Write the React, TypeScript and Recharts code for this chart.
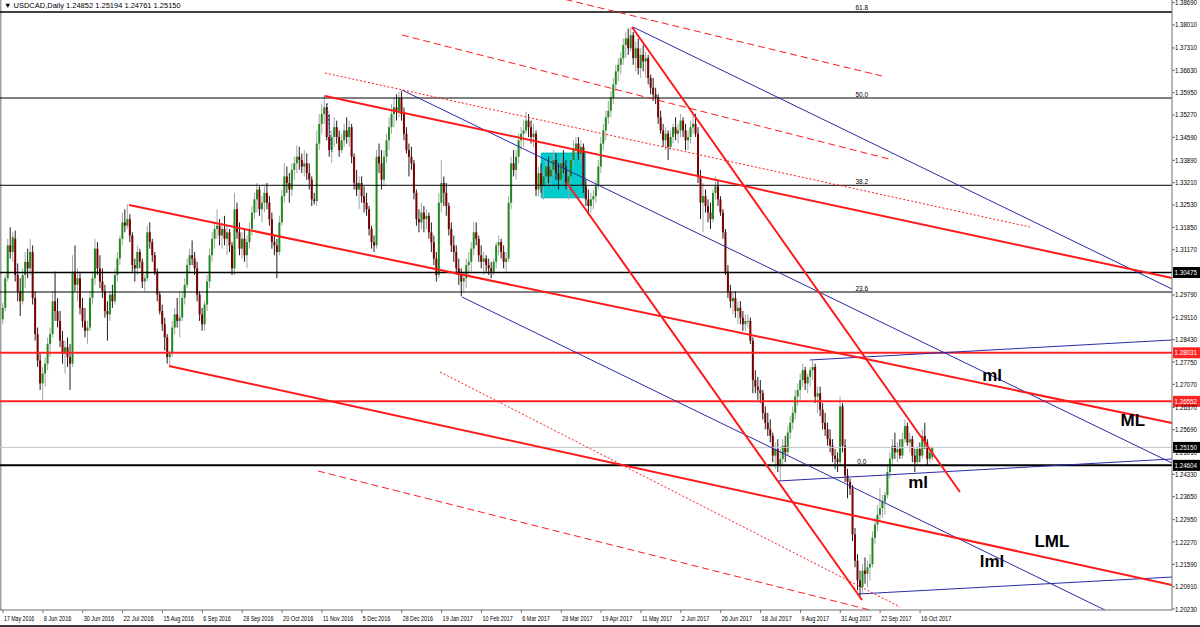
import React from "react";
import {
  ComposedChart,
  Bar,
  XAxis,
  YAxis,
  ReferenceLine,
  ReferenceArea,
  ReferenceDot,
} from "recharts";

// USDCAD daily, 17 May 2016 .. 20 Oct 2017, prices in pips (O, H, L, C)
const CANDLES: [number, number, number, number][] = [
  [12905,12955,12890,12940],[12940,13040,12930,13030],[13030,13150,13020,13130],[13130,13185,13090,13110],[13110,13170,13080,13155],
  [13150,13175,13020,13040],[13040,13075,12960,12990],[12990,13030,12915,12960],[12960,13060,12950,13040],[13040,13110,13000,13080],
  [13080,13120,13030,13060],[13060,13150,13040,13110],[13110,13130,12950,12970],[12970,12990,12840,12860],[12860,12880,12760,12780],
  [12780,12800,12690,12710],[12710,12760,12655,12740],[12740,12790,12700,12770],[12770,12850,12750,12830],[12830,12880,12790,12860],
  [12860,12990,12850,12960],[12960,13050,12900,12930],[12930,12970,12880,12900],[12900,12930,12820,12840],[12840,12870,12770,12800],
  [12800,12840,12740,12820],[12820,12850,12760,12790],[12790,12830,12690,12770],[12770,13100,12760,13050],[13050,13130,12990,13010],
  [13010,13060,12960,13030],[13030,13050,12920,12940],[12940,12970,12880,12900],[12900,12940,12850,12870],[12870,12900,12830,12880],
  [12880,12990,12870,12970],[12970,13050,12950,13030],[13030,13150,13010,13120],[13120,13140,13040,13060],[13060,13100,13000,13020],
  [13020,13060,12970,12990],[12990,13010,12910,12930],[12930,12960,12840,12920],[12920,12990,12900,12980],[12980,13010,12940,12960],
  [12960,13060,12950,13040],[13040,13110,13020,13090],[13090,13160,13070,13150],[13150,13230,13130,13200],[13200,13240,13170,13190],
  [13190,13255,13180,13210],[13210,13225,13140,13160],[13160,13170,13050,13070],[13070,13090,13020,13060],[13060,13130,13040,13110],
  [13110,13120,13060,13080],[13080,13090,13000,13020],[13020,13040,12990,13030],[13030,13190,13020,13170],[13170,13200,13120,13140],
  [13140,13150,13080,13100],[13100,13110,13040,13050],[13050,13060,12960,12980],[12980,12990,12920,12930],[12930,12950,12870,12890],
  [12890,12910,12810,12850],[12850,12860,12770,12790],[12790,12810,12762,12800],[12800,12900,12790,12880],[12880,12940,12860,12920],
  [12920,12970,12880,12900],[12900,12990,12850,12910],[12910,12990,12900,12970],[12970,13030,12950,13010],[13010,13090,13000,13070],
  [13070,13120,13050,13100],[13100,13145,13070,13090],[13090,13110,13040,13060],[13060,13080,12960,12980],[12980,12990,12900,12920],
  [12920,12940,12870,12890],[12890,12960,12870,12950],[12950,13040,12930,13020],[13020,13120,13000,13100],[13100,13170,13080,13150],
  [13150,13200,13120,13180],[13180,13240,13150,13190],[13190,13210,13130,13160],[13160,13200,13120,13180],[13180,13220,13130,13150],
  [13150,13190,13100,13170],[13170,13180,13110,13130],[13130,13140,13040,13060],[13060,13290,13040,13240],[13240,13260,13150,13170],
  [13170,13200,13100,13120],[13120,13170,13090,13150],[13150,13180,13080,13100],[13100,13160,13060,13140],[13140,13200,13120,13180],
  [13180,13250,13160,13230],[13230,13290,13210,13270],[13270,13320,13230,13300],[13300,13310,13220,13240],[13240,13280,13200,13260],
  [13260,13310,13230,13290],[13290,13320,13240,13260],[13260,13280,13190,13210],[13210,13230,13120,13140],[13140,13160,13100,13130],
  [13130,13150,13030,13110],[13110,13220,13100,13200],[13200,13300,13190,13280],[13280,13380,13260,13340],[13340,13370,13290,13320],
  [13320,13350,13260,13300],[13300,13380,13280,13360],[13360,13400,13330,13380],[13380,13435,13350,13400],[13400,13430,13360,13390],
  [13390,13410,13350,13370],[13370,13420,13340,13380],[13380,13410,13330,13350],[13350,13380,13300,13330],[13330,13340,13250,13270],
  [13270,13290,13255,13265],[13265,13480,13250,13440],[13440,13530,13420,13500],[13500,13560,13470,13530],[13530,13588,13500,13550],
  [13550,13560,13450,13460],[13460,13530,13400,13420],[13420,13480,13380,13460],[13460,13520,13430,13490],[13490,13510,13440,13460],
  [13460,13480,13400,13420],[13420,13470,13410,13450],[13450,13500,13430,13480],[13480,13520,13440,13460],[13460,13510,13430,13490],
  [13490,13500,13380,13400],[13400,13410,13300,13320],[13320,13360,13280,13300],[13300,13340,13240,13320],[13320,13340,13260,13280],
  [13280,13310,13230,13260],[13260,13290,13220,13240],[13240,13250,13160,13180],[13180,13190,13120,13140],[13140,13160,13110,13130],
  [13130,13420,13120,13400],[13400,13440,13350,13380],[13380,13420,13300,13330],[13330,13420,13310,13400],[13400,13470,13380,13450],
  [13450,13520,13420,13490],[13490,13560,13470,13530],[13530,13580,13490,13550],[13550,13590,13510,13540],[13540,13598,13520,13580],
  [13580,13600,13510,13530],[13530,13550,13450,13470],[13470,13490,13410,13420],[13420,13440,13340,13400],[13400,13430,13360,13380],
  [13380,13390,13270,13290],[13290,13300,13190,13210],[13210,13240,13170,13200],[13200,13260,13180,13230],[13230,13250,13170,13210],
  [13210,13240,13180,13220],[13220,13230,13150,13170],[13170,13200,13110,13140],[13140,13160,13070,13090],[13090,13110,13020,13040],
  [13040,13290,13030,13260],[13260,13390,13230,13320],[13320,13340,13250,13290],[13290,13320,13220,13250],[13250,13260,13160,13180],
  [13180,13200,13110,13130],[13130,13160,13080,13110],[13110,13130,13040,13060],[13060,13090,13010,13040],[13040,13060,12975,13020],
  [13020,13050,12990,13030],[13030,13090,13000,13070],[13070,13110,13040,13080],[13080,13140,13050,13120],[13120,13200,13100,13170],
  [13170,13200,13130,13150],[13150,13160,13080,13100],[13100,13130,13060,13080],[13080,13110,13040,13090],[13090,13100,13050,13070],
  [13070,13090,13040,13060],[13060,13080,13030,13050],[13050,13090,13040,13080],[13080,13140,13060,13130],[13130,13160,13100,13140],
  [13140,13150,13090,13110],[13110,13130,13060,13080],[13080,13110,13050,13090],[13090,13280,13080,13260],[13260,13400,13240,13380],
  [13380,13420,13340,13360],[13360,13420,13330,13400],[13400,13470,13380,13450],[13450,13490,13420,13470],[13470,13510,13430,13480],
  [13480,13537,13470,13510],[13510,13530,13460,13490],[13490,13510,13440,13460],[13460,13500,13430,13470],[13470,13480,13280,13300],
  [13300,13370,13280,13350],[13350,13380,13290,13310],[13310,13360,13270,13340],[13340,13390,13310,13370],[13370,13400,13320,13340],
  [13340,13380,13300,13360],[13360,13420,13340,13390],[13390,13410,13330,13350],[13350,13380,13300,13330],[13330,13400,13310,13380],
  [13380,13420,13350,13370],[13370,13390,13300,13320],[13320,13360,13270,13340],[13340,13400,13320,13390],[13390,13450,13370,13420],
  [13420,13460,13400,13440],[13440,13460,13390,13410],[13410,13450,13380,13430],[13430,13440,13290,13310],[13310,13330,13250,13270],
  [13270,13300,13222,13250],[13250,13290,13230,13270],[13270,13300,13240,13280],[13280,13330,13260,13310],[13310,13390,13300,13370],
  [13370,13460,13350,13440],[13440,13500,13420,13480],[13480,13540,13450,13520],[13520,13570,13500,13540],[13540,13600,13520,13580],
  [13580,13640,13560,13620],[13620,13680,13600,13660],[13660,13700,13630,13680],[13680,13720,13650,13700],[13700,13760,13680,13740],
  [13740,13780,13700,13760],[13760,13790,13710,13730],[13730,13793,13720,13770],[13770,13780,13680,13700],[13700,13750,13660,13730],
  [13730,13760,13650,13670],[13670,13730,13640,13710],[13710,13740,13660,13690],[13690,13720,13640,13700],[13700,13710,13620,13640],
  [13640,13650,13590,13610],[13610,13640,13570,13590],[13590,13610,13560,13580],[13580,13590,13500,13520],[13520,13540,13470,13480],
  [13480,13500,13430,13450],[13450,13490,13420,13470],[13470,13480,13390,13430],[13430,13480,13420,13460],[13460,13500,13440,13490],
  [13490,13520,13450,13470],[13470,13500,13440,13480],[13480,13530,13460,13510],[13510,13520,13460,13480],[13480,13500,13420,13450],
  [13450,13480,13420,13460],[13460,13510,13440,13490],[13490,13530,13470,13500],[13500,13530,13460,13470],[13470,13490,13320,13340],
  [13340,13360,13210,13260],[13260,13320,13170,13280],[13280,13300,13230,13250],[13250,13270,13200,13230],[13230,13260,13180,13210],
  [13210,13300,13200,13290],[13290,13340,13270,13310],[13310,13330,13250,13270],[13270,13280,13220,13230],[13230,13240,13150,13170],
  [13170,13180,13040,13050],[13050,13070,12970,12990],[12990,13010,12940,12960],[12960,12990,12920,12970],[12970,12990,12910,12930],
  [12930,12960,12890,12940],[12940,12960,12890,12910],[12910,12930,12870,12890],[12890,12920,12870,12900],[12900,12920,12880,12900],
  [12900,12910,12830,12840],[12840,12850,12680,12720],[12720,12750,12680,12700],[12700,12730,12660,12690],[12690,12720,12650,12680],
  [12680,12690,12600,12620],[12620,12640,12570,12590],[12590,12620,12550,12570],[12570,12600,12530,12550],[12550,12560,12470,12490],
  [12490,12530,12450,12510],[12510,12540,12440,12460],[12460,12510,12414,12480],[12480,12540,12460,12520],[12520,12550,12470,12500],
  [12500,12580,12490,12560],[12560,12610,12540,12590],[12590,12640,12570,12620],[12620,12690,12600,12670],[12670,12710,12640,12690],
  [12690,12740,12660,12720],[12720,12770,12700,12750],[12750,12760,12690,12710],[12710,12740,12680,12730],[12730,12760,12700,12750],
  [12750,12778,12720,12760],[12760,12770,12650,12670],[12670,12700,12620,12680],[12680,12700,12610,12630],[12630,12650,12570,12590],
  [12590,12620,12550,12570],[12570,12590,12520,12540],[12540,12570,12500,12520],[12520,12540,12470,12490],[12490,12510,12450,12480],
  [12480,12500,12440,12470],[12470,12670,12460,12640],[12640,12650,12500,12520],[12520,12540,12410,12430],[12430,12450,12360,12410],
  [12410,12420,12370,12390],[12390,12400,12230,12250],[12250,12270,12150,12170],[12170,12190,12080,12110],[12110,12140,12062,12090],
  [12090,12160,12070,12140],[12140,12180,12100,12130],[12130,12170,12090,12150],[12150,12190,12110,12160],[12160,12260,12150,12240],
  [12240,12300,12220,12280],[12280,12340,12260,12310],[12310,12390,12290,12330],[12330,12370,12300,12350],[12350,12380,12310,12370],
  [12370,12460,12360,12440],[12440,12500,12420,12480],[12480,12540,12460,12520],[12520,12560,12480,12500],[12500,12530,12470,12510],
  [12510,12540,12480,12490],[12490,12560,12480,12540],[12540,12600,12530,12580],[12580,12590,12520,12530],[12530,12560,12500,12540],
  [12540,12550,12470,12490],[12490,12510,12440,12470],[12470,12520,12460,12510],[12510,12530,12470,12490],[12490,12570,12480,12550],
  [12550,12590,12510,12530],[12530,12540,12460,12480],[12480,12510,12470,12500],[12485,12519,12476,12515],
];

const DATE_LABELS = [
  "17 May 2016", "8 Jun 2016", "30 Jun 2016", "22 Jul 2016", "15 Aug 2016", "6 Sep 2016",
  "28 Sep 2016", "20 Oct 2016", "11 Nov 2016", "5 Dec 2016", "28 Dec 2016", "19 Jan 2017",
  "10 Feb 2017", "6 Mar 2017", "28 Mar 2017", "19 Apr 2017", "11 May 2017", "2 Jun 2017",
  "26 Jun 2017", "18 Jul 2017", "9 Aug 2017", "31 Aug 2017", "22 Sep 2017", "16 Oct 2017",
];
const DATE_STEP = 16;

const PRICE_TICKS = [
  1.3869, 1.3801, 1.3731, 1.3663, 1.3595, 1.3527, 1.3459, 1.3389, 1.3321, 1.3253, 1.3185, 1.3117,
  1.2979, 1.2911, 1.2843, 1.2775, 1.2707, 1.2637, 1.2569, 1.2501, 1.2433, 1.2365, 1.2295, 1.2227,
  1.2159, 1.2091, 1.2023,
];

const FIB_LEVELS = [
  { label: "61.8", price: 1.38406 },
  { label: "50.0", price: 1.35787 },
  { label: "38.2", price: 1.3313 },
  { label: "23.6", price: 1.29881 },
  { label: "0.0", price: 1.24604 },
];

const PRICE_LINES = [
  { price: 1.30475, color: "#000000", width: 1.5, box: "#000000" },
  { price: 1.28031, color: "#ff2424", width: 2, box: "#ff2424" },
  { price: 1.26552, color: "#ff2424", width: 2, box: "#ff2424" },
  { price: 1.2515, color: "#c2c6cc", width: 1, box: "#000000" },
  { price: 1.24604, color: "#000000", width: 2, box: "#000000" },
];

// trend lines: [barIndex, price] -> [barIndex, price]
const RED_SOLID = [
  [[129.2, 1.35848], [469.1, 1.30307]],
  [[50.6, 1.3253], [469.1, 1.25893]],
  [[66.6, 1.27628], [469.1, 1.20961]],
  [[252.4, 1.37949], [384.0, 1.23792]],
  [[226.0, 1.3323], [344.7, 1.20504]],
];
const RED_DASHED = [
  [[200.0, 1.39258], [352.7, 1.36457]],
  [[160.1, 1.37705], [357.1, 1.339]],
  [[126.4, 1.24431], [347.9, 1.202]],
];
const RED_DOTTED = [
  [[129.2, 1.36549], [412.1, 1.3186]],
  [[175.4, 1.27445], [360.0, 1.20291]],
];
const BLUE_LINES = [
  [[160.1, 1.36031], [469.1, 1.24675]],
  [[252.8, 1.37949], [469.1, 1.29972]],
  [[184.2, 1.29729], [442.2, 1.202]],
  [[311.0, 1.24127], [469.1, 1.24797]],
  [[323.8, 1.27811], [469.1, 1.2842]],
  [[343.1, 1.20687], [469.1, 1.21204]],
];

const BOX = { x1: 216.0, x2: 233.6, y1: 1.3275, y2: 1.3411 };

const TEXT_MARKS = [
  { text: "ml", i: 396.9, p: 1.27354 },
  { text: "ML", i: 453.4, p: 1.25984 },
  { text: "ml", i: 367.2, p: 1.24097 },
  { text: "LML", i: 420.9, p: 1.223 },
  { text: "lml", i: 396.9, p: 1.21691 },
];

const TITLE = "\u25BC USDCAD,Daily  1.24852 1.25194 1.24761 1.25150";

const X_DOMAIN: [number, number] = [-1.2, 469.1];
const Y_DOMAIN: [number, number] = [1.202, 1.38771];
const FONT = "'Liberation Sans', Arial, sans-serif";
const RED = "#ff1a1a";
const BLUE = "#2a2aa8";

const data = CANDLES.map(([o, h, l, c], i) => ({
  i,
  o: o / 10000,
  h: h / 10000,
  l: l / 10000,
  c: c / 10000,
}));

const Candle = (props: any) => {
  const { x, y, width, height, payload } = props;
  if (!payload || !isFinite(x) || !isFinite(y)) return null;
  const { o, h, l, c } = payload;
  const top = height < 0 ? y + height : y;
  const span = Math.abs(height);
  const at = (p: number) => (h === l ? top : top + ((h - p) / (h - l)) * span);
  const up = c >= o;
  const cx = x + width / 2;
  const bTop = at(Math.max(o, c));
  const bBot = at(Math.min(o, c));
  return (
    <g>
      <line x1={cx} x2={cx} y1={top} y2={top + span} stroke={up ? "#a4a4a4" : "#1e1e1e"} strokeWidth={1} />
      <rect x={cx - 1} y={bTop} width={2} height={Math.max(1, bBot - bTop)} fill={up ? "#1f8a1f" : "#7a0000"} />
    </g>
  );
};

const DateTick = (props: any) => {
  const { x, y, payload } = props;
  const label = DATE_LABELS[Math.round(payload.value / DATE_STEP)] || "";
  return (
    <text
      x={x + 1}
      y={y + 6}
      textAnchor="start"
      fontSize={7.5}
      fontFamily={FONT}
      fill="#000"
      textLength={label.length * 2.75}
      lengthAdjust="spacingAndGlyphs"
    >
      {label}
    </text>
  );
};

const PriceTick = (props: any) => {
  const { x, y, payload } = props;
  return (
    <text
      x={x - 1}
      y={y + 2.5}
      textAnchor="start"
      fontSize={6.5}
      fontFamily={FONT}
      fill="#000"
      textLength={22}
      lengthAdjust="spacingAndGlyphs"
    >
      {payload.value.toFixed(5)}
    </text>
  );
};

const priceBox = (color: string, value: number) => (props: any) => {
  const vb = props.viewBox || {};
  const x = vb.x + vb.width + 1;
  const y = vb.y;
  return (
    <g>
      <rect x={x} y={y - 5.5} width={27} height={11} fill={color} />
      <text
        x={x + 1.5}
        y={y + 2.5}
        fontSize={6.5}
        fontFamily={FONT}
        fill="#fff"
        textLength={22.5}
        lengthAdjust="spacingAndGlyphs"
      >
        {value.toFixed(5)}
      </text>
    </g>
  );
};

export default function App() {
  const dateTicks = DATE_LABELS.map((_, k) => k * DATE_STEP);
  return (
    <div style={{ position: "absolute", left: 0, top: 0, width: 1200, height: 627, background: "#fff" }}>
      <ComposedChart
        width={1200}
        height={627}
        data={data}
        margin={{ top: 0, right: 0, bottom: 0, left: 0 }}
      >
        <XAxis
          dataKey="i"
          type="number"
          domain={X_DOMAIN}
          allowDataOverflow
          ticks={dateTicks}
          tick={<DateTick />}
          tickSize={3}
          height={17}
          stroke="#6f6f6f"
          interval={0}
        />
        <YAxis
          type="number"
          orientation="right"
          domain={Y_DOMAIN}
          allowDataOverflow
          ticks={PRICE_TICKS}
          tick={<PriceTick />}
          tickSize={3}
          tickMargin={1}
          width={28}
          stroke="#6f6f6f"
          interval={0}
        />
        <ReferenceArea
          x1={BOX.x1}
          x2={BOX.x2}
          y1={BOX.y1}
          y2={BOX.y2}
          fill="#00cccc"
          fillOpacity={1}
          stroke="#00b4b4"
        />
        <ReferenceLine x={X_DOMAIN[0]} stroke="#a0a0a0" strokeWidth={3} />
        {FIB_LEVELS.slice(0, 4).map((f) => (
          <ReferenceLine key={f.label} y={f.price} stroke="#000" strokeWidth={f.label === "61.8" ? 1.5 : 1} />
        ))}
        {PRICE_LINES.map((p) => (
          <ReferenceLine
            key={p.price}
            y={p.price}
            stroke={p.color}
            strokeWidth={p.width}
            label={priceBox(p.box, p.price)}
          />
        ))}
        <Bar dataKey={(d: any) => [d.l, d.h]} shape={Candle} barSize={2} isAnimationActive={false} />
        {BLUE_LINES.map((s, k) => (
          <ReferenceLine
            key={"b" + k}
            segment={[{ x: s[0][0], y: s[0][1] }, { x: s[1][0], y: s[1][1] }]}
            stroke={BLUE}
            strokeWidth={1}
            ifOverflow="hidden"
          />
        ))}
        <ReferenceLine
          segment={[{ x: 130.0, y: 1.35635 }, { x: 132.0, y: 1.34143 }]}
          stroke={BLUE}
          strokeDasharray="2 2"
          ifOverflow="hidden"
        />
        {RED_DASHED.map((s, k) => (
          <ReferenceLine
            key={"rd" + k}
            segment={[{ x: s[0][0], y: s[0][1] }, { x: s[1][0], y: s[1][1] }]}
            stroke={RED}
            strokeWidth={1}
            strokeDasharray="7 4"
            ifOverflow="hidden"
          />
        ))}
        {RED_DOTTED.map((s, k) => (
          <ReferenceLine
            key={"rt" + k}
            segment={[{ x: s[0][0], y: s[0][1] }, { x: s[1][0], y: s[1][1] }]}
            stroke={RED}
            strokeWidth={1}
            strokeDasharray="2 2"
            ifOverflow="hidden"
          />
        ))}
        {RED_SOLID.map((s, k) => (
          <ReferenceLine
            key={"rs" + k}
            segment={[{ x: s[0][0], y: s[0][1] }, { x: s[1][0], y: s[1][1] }]}
            stroke={RED}
            strokeWidth={2}
            ifOverflow="hidden"
          />
        ))}
        {FIB_LEVELS.map((f) => (
          <ReferenceDot
            key={"fl" + f.label}
            x={344.6}
            y={f.price}
            r={0}
            fill="none"
            stroke="none"
            label={(props: any) => (
              <text
                x={props.viewBox.x}
                y={props.viewBox.y - 1.5}
                textAnchor="middle"
                fontSize={6.5}
                fontFamily={FONT}
                fill="#000"
              >
                {f.label}
              </text>
            )}
          />
        ))}
        {TEXT_MARKS.map((t, k) => (
          <ReferenceDot
            key={"tm" + k}
            x={t.i}
            y={t.p}
            r={0}
            fill="none"
            stroke="none"
            label={(props: any) => (
              <text
                x={props.viewBox.x}
                y={props.viewBox.y + 6}
                textAnchor="middle"
                fontSize={17}
                fontWeight="bold"
                fontFamily={FONT}
                fill="#000"
              >
                {t.text}
              </text>
            )}
          />
        ))}
        <ReferenceDot
          x={X_DOMAIN[0]}
          y={Y_DOMAIN[1]}
          r={0}
          fill="none"
          stroke="none"
          label={(props: any) => (
            <text x={props.viewBox.x + 4} y={props.viewBox.y + 8} fontSize={7.5} fontFamily={FONT} fill="#000">
              {TITLE}
            </text>
          )}
        />
      </ComposedChart>
      <div style={{ position: "absolute", left: 0, top: 625, width: 1200, height: 2, background: "#3a3a3a" }} />
    </div>
  );
}
